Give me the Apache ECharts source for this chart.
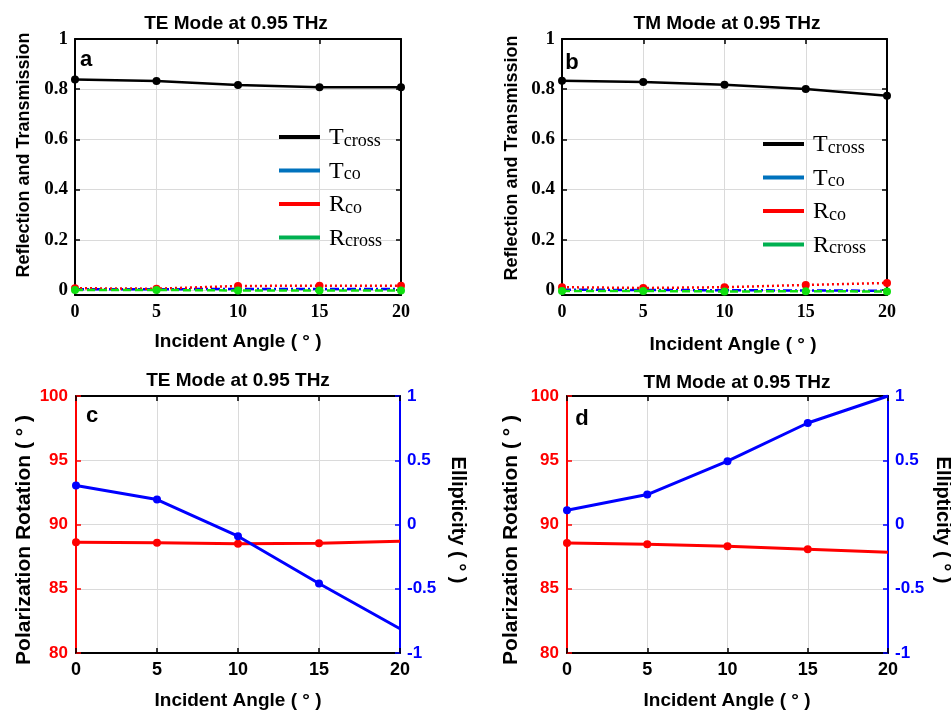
<!DOCTYPE html>
<html>
<head>
<meta charset="utf-8">
<script src="https://cdn.jsdelivr.net/npm/echarts@6/dist/echarts.min.js"></script>
<style>html,body{margin:0;padding:0;background:#fff}#c{width:951px;height:711px}</style>
</head>
<body>
<div id="c"></div>
<script>
// ---- data ----
const angles = [0, 5, 10, 15, 20];
const xTicks = [0, 5, 10, 15, 20];
const yTicksRT = [0, 0.2, 0.4, 0.6, 0.8, 1];
const rotTicks = [80, 85, 90, 95, 100];
const ellTicks = [-1, -0.5, 0, 0.5, 1];

const teTcross = [0.839, 0.833, 0.817, 0.808, 0.808];
const teTco    = [0.003, 0.003, 0.004, 0.004, 0.004];
const teRco    = [0.007, 0.005, 0.016, 0.017, 0.017];
const teRcross = [0.000, 0.000, -0.002, -0.002, -0.002];

const tmTcross = [0.834, 0.829, 0.818, 0.801, 0.774];
const tmTco    = [0.001, 0.000, -0.001, -0.002, -0.003];
const tmRco    = [0.011, 0.008, 0.011, 0.020, 0.028];
const tmRcross = [-0.004, -0.004, -0.006, -0.005, -0.006];

const teRot = [88.62, 88.58, 88.50, 88.55, 88.70];
const teEll = [0.303, 0.194, -0.091, -0.459, -0.811];
const tmRot = [88.57, 88.47, 88.31, 88.08, 87.85];
const tmEll = [0.111, 0.233, 0.493, 0.790, 1.000];

const legendNames = ['Tcross', 'Tco', 'Rco', 'Rcross'];
const legendColors = ['#000000', '#0072BD', '#FF0000', '#00B050'];

// ---- helpers ----
const SANS = 'Liberation Sans';
const SERIF = 'Liberation Serif';
const GRID = '#dadada';

function pairs(vals, lastNoMarker) {
  return vals.map((v, i) => {
    const item = { value: [angles[i], v] };
    if (lastNoMarker && i === vals.length - 1) item.symbol = 'none';
    return item;
  });
}

function boxX(gi, bottom, font, labelColor) {
  return {
    type: 'value', gridIndex: gi, min: xTicks[0], max: xTicks[xTicks.length - 1], interval: 5,
    position: bottom ? 'bottom' : 'top',
    axisLine: { show: true, onZero: false, lineStyle: { color: '#000', width: 2 } },
    axisTick: { show: true, inside: true, length: 5, lineStyle: { color: '#000', width: 1.5 } },
    axisLabel: bottom ? { show: true, color: labelColor || '#000', fontFamily: font, fontWeight: 'bold', fontSize: 18, margin: 8 } : { show: false },
    splitLine: bottom ? { show: true, lineStyle: { color: GRID, width: 1 } } : { show: false }
  };
}

function rtY(gi, left) {
  return {
    type: 'value', gridIndex: gi, min: -0.02, max: 1, splitNumber: 5,
    position: left ? 'left' : 'right',
    axisLine: { show: true, onZero: false, lineStyle: { color: '#000', width: 2 } },
    axisTick: { show: true, inside: true, length: 5, lineStyle: { color: '#000', width: 1.5 } },
    axisLabel: left ? {
      show: true, showMinLabel: false, color: '#000', fontFamily: SERIF, fontWeight: 'bold', fontSize: 19, margin: 7,
      formatter: v => {
        const hit = yTicksRT.find(t => Math.abs(t - v) < 1e-6);
        return hit === undefined ? '' : String(hit);
      }
    } : { show: false },
    splitLine: left ? { show: true, lineStyle: { color: GRID, width: 1 } } : { show: false }
  };
}

function rotY(gi) {
  return {
    type: 'value', gridIndex: gi, min: rotTicks[0], max: rotTicks[rotTicks.length - 1], interval: 5,
    position: 'left',
    axisLine: { show: true, onZero: false, lineStyle: { color: '#FF0000', width: 2 } },
    axisTick: { show: true, inside: true, length: 5, lineStyle: { color: '#FF0000', width: 1.5 } },
    axisLabel: { show: true, color: '#FF0000', fontFamily: SANS, fontWeight: 'bold', fontSize: 17, margin: 8 },
    splitLine: { show: true, lineStyle: { color: GRID, width: 1 } }
  };
}

function ellY(gi) {
  return {
    type: 'value', gridIndex: gi, min: ellTicks[0], max: ellTicks[ellTicks.length - 1], interval: 0.5,
    position: 'right',
    axisLine: { show: true, onZero: false, lineStyle: { color: '#0000FF', width: 2 } },
    axisTick: { show: true, inside: true, length: 5, lineStyle: { color: '#0000FF', width: 1.5 } },
    axisLabel: { show: true, color: '#0000FF', fontFamily: SANS, fontWeight: 'bold', fontSize: 17, margin: 7 },
    splitLine: { show: false }
  };
}

function rtSeries(xi, yi, tc, tco, rco, rcr) {
  return [
    { name: 'Tcross', type: 'line', xAxisIndex: xi, yAxisIndex: yi, data: pairs(tc),
      symbol: 'circle', symbolSize: 8, lineStyle: { color: '#000', width: 2.5 }, itemStyle: { color: '#000' }, z: 3 },
    { name: 'Tco', type: 'line', xAxisIndex: xi, yAxisIndex: yi, data: pairs(tco),
      symbol: 'circle', symbolSize: 5, lineStyle: { color: '#0000FF', width: 2.5, type: [9, 3, 2, 3] }, itemStyle: { color: '#0000FF' }, z: 3 },
    { name: 'Rco', type: 'line', xAxisIndex: xi, yAxisIndex: yi, data: pairs(rco),
      symbol: 'circle', symbolSize: 8, lineStyle: { color: '#FF0000', width: 2.5, type: [2, 3] }, itemStyle: { color: '#FF0000' }, z: 4 },
    { name: 'Rcross', type: 'line', xAxisIndex: xi, yAxisIndex: yi, data: pairs(rcr),
      symbol: 'circle', symbolSize: 8, lineStyle: { color: '#10E010', width: 2.5, type: [8, 4] }, itemStyle: { color: '#10E010' }, z: 5 }
  ];
}

function pmSeries(xi, yRot, yEll, rot, ell) {
  return [
    { name: 'rot' + xi, type: 'line', xAxisIndex: xi, yAxisIndex: yRot, data: pairs(rot, true),
      symbol: 'circle', symbolSize: 8, lineStyle: { color: '#FF0000', width: 3 }, itemStyle: { color: '#FF0000' } },
    { name: 'ell' + xi, type: 'line', xAxisIndex: xi, yAxisIndex: yEll, data: pairs(ell, true),
      symbol: 'circle', symbolSize: 8, lineStyle: { color: '#0000FF', width: 3 }, itemStyle: { color: '#0000FF' } }
  ];
}

function legend(left, top) {
  return {
    orient: 'vertical', left: left, top: top, selectedMode: false,
    itemWidth: 41, itemHeight: 4, itemGap: 9.5, icon: 'rect',
    data: legendNames.map((n, i) => ({
      name: n, icon: 'rect',
      itemStyle: { color: legendColors[i] },
      lineStyle: { color: legendColors[i], type: 'solid', width: 3.5 }
    })),
    formatter: n => '{m|' + n.charAt(0) + '}{s|' + n.slice(1) + '}',
    textStyle: {
      padding: [0, 0, 0, 4],
      rich: {
        m: { fontFamily: SERIF, fontSize: 24, lineHeight: 26, verticalAlign: 'bottom', color: '#000' },
        s: { fontFamily: SERIF, fontSize: 18, lineHeight: 16, verticalAlign: 'bottom', color: '#000' }
      }
    }
  };
}

function txt(x, y, s, size, rot, color) {
  return {
    type: 'text', x: x, y: y, rotation: rot || 0,
    style: { text: s, fontFamily: SANS, fontWeight: 'bold', fontSize: size, fill: color || '#000', align: 'center', verticalAlign: 'middle' },
    z: 10
  };
}

const chart = echarts.init(document.getElementById('c'), null, { renderer: 'canvas' });
const P = Math.PI / 2;
chart.setOption({
  animation: false,
  backgroundColor: '#fff',
  grid: [
    { left: 75, top: 39, width: 326, height: 256 },
    { left: 562, top: 39, width: 325, height: 256 },
    { left: 76, top: 396, width: 324, height: 257 },
    { left: 567, top: 396, width: 321, height: 257 }
  ],
  xAxis: [
    boxX(0, true, SERIF), boxX(0, false),
    boxX(1, true, SERIF), boxX(1, false),
    boxX(2, true, SANS), boxX(2, false),
    boxX(3, true, SANS), boxX(3, false)
  ],
  yAxis: [
    rtY(0, true), rtY(0, false),
    rtY(1, true), rtY(1, false),
    rotY(2), ellY(2),
    rotY(3), ellY(3)
  ],
  legend: [legend(274, 121), legend(758, 128)],
  series: [].concat(
    rtSeries(0, 0, teTcross, teTco, teRco, teRcross),
    rtSeries(2, 2, tmTcross, tmTco, tmRco, tmRcross),
    pmSeries(4, 4, 5, teRot, teEll),
    pmSeries(6, 6, 7, tmRot, tmEll)
  ),
  graphic: [
    txt(236, 24, 'TE Mode at 0.95 THz', 19),
    txt(727, 24, 'TM Mode at 0.95 THz', 19),
    txt(238, 381, 'TE Mode at 0.95 THz', 19),
    txt(737, 383, 'TM Mode at 0.95 THz', 19),
    txt(238, 342, 'Incident Angle ( ° )', 19),
    txt(733, 345, 'Incident Angle ( ° )', 19),
    txt(238, 701, 'Incident Angle ( ° )', 19),
    txt(727, 701, 'Incident Angle ( ° )', 19),
    txt(24, 155, 'Reflection and Transmission', 18, P),
    txt(512, 158, 'Reflection and Transmission', 18, P),
    txt(24, 540, 'Polarization Rotation ( ° )', 21, P),
    txt(511, 540, 'Polarization Rotation ( ° )', 21, P),
    txt(458, 520, 'Ellipticity ( ° )', 20, -P),
    txt(943, 520, 'Ellipticity ( ° )', 20, -P),
    txt(86, 60, 'a', 22),
    txt(572, 63, 'b', 22),
    txt(92, 416, 'c', 22),
    txt(582, 419, 'd', 22)
  ]
});
</script>
</body>
</html>
